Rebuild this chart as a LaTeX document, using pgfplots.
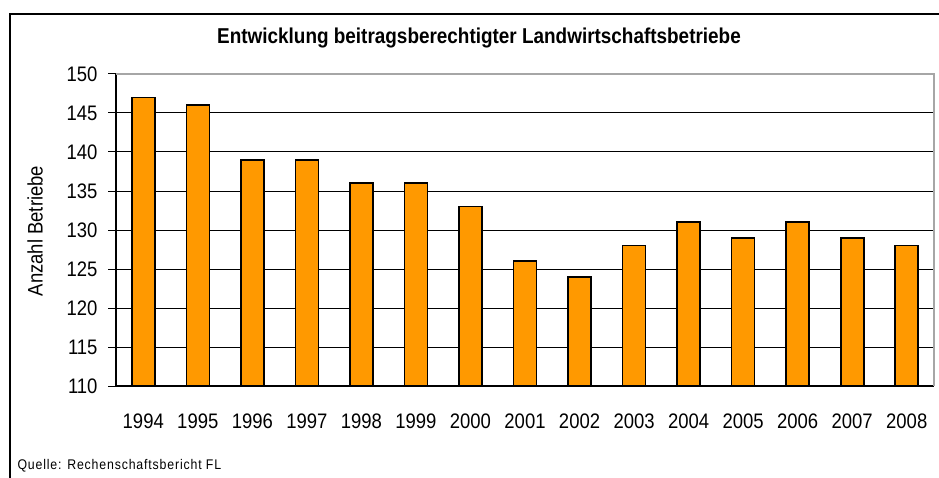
\documentclass[border=0pt]{standalone}
\usepackage{pgfplots}
\pgfplotsset{compat=1.18}
\usepackage{fontspec}
\setmainfont{Liberation Sans}[FakeStretch=0.88]
\definecolor{barorange}{HTML}{FF9900}
\begin{document}
\begin{tikzpicture}[x=1pt,y=1pt]
\useasboundingbox (0,0) rectangle (939,477);
% outer frame (extends beyond picture on right/bottom)
\draw[line width=2pt] (10,-10) -- (10,463) -- (960,463);
\node[font=\bfseries\fontsize{21.5}{24}\selectfont] at (479,439) {Entwicklung beitragsberechtigter Landwirtschaftsbetriebe};
\node[font=\fontsize{14}{16}\selectfont\addfontfeature{LetterSpace=6}, anchor=base west] at (14,8) {Quelle: Rechenschaftsbericht FL};
\node[font=\fontsize{21}{24}\selectfont, rotate=90] at (35,246) {Anzahl Betriebe};
\begin{axis}[
  at={(116pt,91pt)}, anchor=south west,
  scale only axis, width=818pt, height=312pt,
  xmin=-0.5, xmax=14.5, ymin=110, ymax=150,
  axis x line*=bottom, axis y line*=left,
  axis line style={line width=1.2pt, black},
  ytick={110,115,...,150},
  ymajorgrids, major grid style={black, line width=1pt},
  xtick={0,...,14},
  xticklabels={1994,1995,1996,1997,1998,1999,2000,2001,2002,2003,2004,2005,2006,2007,2008},
  x tick style={draw=none},
  extra x ticks={-0.5,0.5,...,14.5}, extra x tick labels={},
  extra x tick style={grid=none, major tick length=8pt, tick align=outside, tick style={draw=black, line width=1pt}},
  y tick style={black, line width=1pt},
  major tick length=8pt, tick align=outside,
  ticklabel style={font=\fontsize{21}{24}\selectfont},
  /pgf/number format/assume math mode=true,
  xticklabel style={yshift=-16pt},
  yticklabel style={xshift=-7pt},
  ybar, bar width=23pt,
  clip=false,
]
\addplot[fill=barorange, draw=black, line width=1.6pt] coordinates {
(0,147) (1,146) (2,139) (3,139) (4,136) (5,136) (6,133) (7,126) (8,124) (9,128) (10,131) (11,129) (12,131) (13,129) (14,128)};
\draw[gray!70, line width=1.5pt] (axis description cs:0,1) -- (axis description cs:1,1) -- (axis description cs:1,0);
\end{axis}
\end{tikzpicture}
\end{document}
